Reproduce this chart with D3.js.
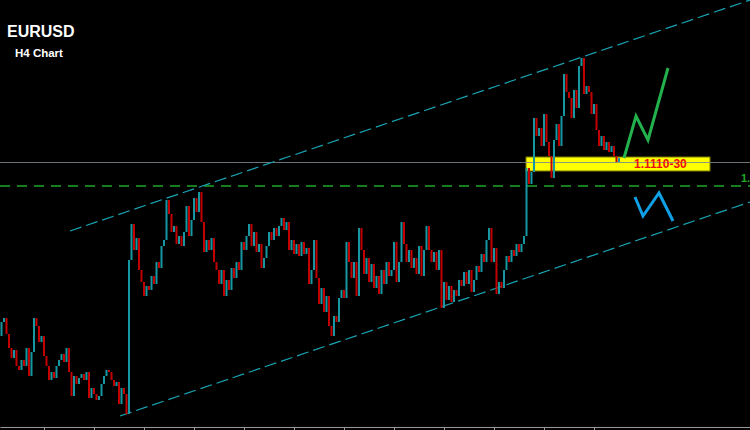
<!DOCTYPE html>
<html>
<head>
<meta charset="utf-8">
<script src="https://cdn.jsdelivr.net/npm/d3@7"></script>
<style>
  html, body { margin: 0; padding: 0; background: #000; }
  svg { display: block; }
</style>
</head>
<body>
<svg id="chart" width="750" height="430"></svg>
<script>
// ---- Data (EURUSD H4) ----
const symbol = "EURUSD";
const timeframe = "H4 Chart";
const firstOpen = 1.0770;
const closes = [
  1.0798, 1.0806, 1.0774, 1.0746, 1.0726, 1.0742, 1.0710, 1.0702, 1.0722, 1.0710,
  1.0746, 1.0690, 1.0738, 1.0806, 1.0790, 1.0758, 1.0770, 1.0730, 1.0710, 1.0682,
  1.0698, 1.0686, 1.0710, 1.0722, 1.0734, 1.0718, 1.0746, 1.0698, 1.0650, 1.0690,
  1.0674, 1.0686, 1.0694, 1.0682, 1.0698, 1.0646, 1.0666, 1.0654, 1.0642, 1.0650,
  1.0674, 1.0690, 1.0702, 1.0698, 1.0682, 1.0670, 1.0678, 1.0634, 1.0666, 1.0654,
  1.0614, 1.0922, 1.0994, 1.0942, 1.0966, 1.0902, 1.0878, 1.0850, 1.0870, 1.0862,
  1.0890, 1.0874, 1.0918, 1.0906, 1.0950, 1.0962, 1.1042, 1.1014, 1.0978, 1.0990,
  1.0954, 1.0970, 1.0950, 1.0978, 1.1030, 1.0970, 1.1002, 1.1046, 1.1018, 1.1058,
  1.0998, 1.0938, 1.0962, 1.0942, 1.0966, 1.0918, 1.0902, 1.0874, 1.0902, 1.0850,
  1.0882, 1.0862, 1.0906, 1.0886, 1.0918, 1.0902, 1.0958, 1.0942, 1.0970, 1.0994,
  1.0950, 1.0978, 1.0938, 1.0954,
  1.0906, 1.0926, 1.0950, 1.0978, 1.0962, 1.0986, 1.0970, 1.0990, 1.1006, 1.0982,
  1.0998, 1.0942, 1.0962, 1.0934, 1.0954, 1.0930, 1.0958, 1.0934, 1.0946, 1.0874,
  1.0902, 1.0962, 1.0886, 1.0834, 1.0866, 1.0818, 1.0850, 1.0790, 1.0770, 1.0810,
  1.0798, 1.0846, 1.0862, 1.0846, 1.0958, 1.0918, 1.0886, 1.0918, 1.0850, 1.0986,
  1.0942, 1.0894, 1.0926, 1.0878, 1.0914, 1.0866, 1.0890, 1.0854, 1.0902, 1.0874, 1.0918, 1.0890,
  1.0902, 1.0958, 1.0878, 1.0918, 1.0998, 1.0954, 1.0918, 1.0942, 1.0906, 1.0926,
  1.0894, 1.0950, 1.0890, 1.0942, 1.0990, 1.0942, 1.0918, 1.0938, 1.0902, 1.0942,
  1.0826, 1.0878, 1.0842, 1.0870, 1.0838, 1.0862, 1.0850, 1.0882, 1.0870, 1.0898,
  1.0874, 1.0902, 1.0858, 1.0882, 1.0910, 1.0898, 1.0934, 1.0918, 1.0962, 1.0986,
  1.0918, 1.0946, 1.0854, 1.0878, 1.0866, 1.0902, 1.0930, 1.0918, 1.0942, 1.0930,
  1.0954, 1.0938, 1.0954, 1.0970,
  1.1106, 1.1074, 1.1098, 1.1206, 1.1170, 1.1186, 1.1150, 1.1214, 1.1158, 1.1130,
  1.1086, 1.1162, 1.1194, 1.1150, 1.1210, 1.1294, 1.1258, 1.1246, 1.1206, 1.1262,
  1.1226, 1.1310, 1.1326, 1.1254, 1.1270, 1.1258, 1.1214, 1.1234, 1.1182, 1.1150,
  1.1170, 1.1142, 1.1158, 1.1138, 1.1150, 1.1130, 1.1118, 1.1126
];
// Annotations, in [bar index, price]
const channelUpper = [[27.4, 1.0980], [299.4, 1.1442]];
const channelLower = [[47.4, 1.0610], [299.4, 1.1038]];
const greenPath = [[249.0, 1.1126], [253.8, 1.1210], [258.6, 1.1162], [266.6, 1.1306]];
const bluePath  = [[253.4, 1.1048], [256.6, 1.1010], [263.0, 1.1056], [268.6, 1.1000]];
const zonePrices = [1.1100, 1.1128];
const zoneBars = [209.8, 283.4];
const zoneLabel = "1.1110-30";
const priceLine = 1.1118;
const levelLine = 1.1070;
const levelLabel = "1.";   // the visible part of the level label at the right edge
const timeTicks = [17, 37, 57, 77, 97, 117, 137, 157, 177, 197, 217, 237];

// ---- Scales ----
const W = 750, H = 430;
const x = d3.scaleLinear().domain([-0.6, 299.4]).range([0, W]);
const y = d3.scaleLinear().domain([1.0582, 1.1442]).range([H, 0]);

const svg = d3.select("#chart");
svg.append("rect").attr("width", W).attr("height", H).attr("fill", "#000");

const candles = closes.map((c, i) => ({ i, o: i === 0 ? firstOpen : closes[i - 1], c }));

// support zone
svg.append("rect")
  .attr("x", x(zoneBars[0])).attr("width", x(zoneBars[1]) - x(zoneBars[0]))
  .attr("y", y(zonePrices[1])).attr("height", y(zonePrices[0]) - y(zonePrices[1]))
  .attr("fill", "#ffff00").attr("stroke", "#7a7a00").attr("stroke-width", 1);

// horizontal price line
svg.append("line")
  .attr("x1", 0).attr("x2", W)
  .attr("y1", Math.round(y(priceLine)) + 0.5).attr("y2", Math.round(y(priceLine)) + 0.5)
  .attr("stroke", "#7d8890").attr("stroke-width", 1).attr("opacity", 0.85);

// green dashed level
svg.append("line")
  .attr("x1", 0).attr("x2", W)
  .attr("y1", y(levelLine)).attr("y2", y(levelLine))
  .attr("stroke", "#1fa82a").attr("stroke-width", 1.5).attr("stroke-dasharray", "10,7");
svg.append("text")
  .attr("x", 741).attr("y", y(levelLine) - 4)
  .attr("fill", "#1fa82a").attr("font-family", "Liberation Sans, Arial, sans-serif")
  .attr("font-weight", "bold").attr("font-size", 11).text(levelLabel);

// channel lines
const line = d3.line().x(d => x(d[0])).y(d => y(d[1]));
[channelUpper, channelLower].forEach(pts => {
  svg.append("path").attr("d", line(pts))
    .attr("fill", "none").attr("stroke", "#19a3b3").attr("stroke-width", 1.2)
    .attr("stroke-dasharray", "12,5");
});

// candles
svg.append("g").selectAll("rect").data(candles).join("rect")
  .attr("x", d => x(d.i) - 1)
  .attr("width", 2)
  .attr("y", d => y(Math.max(d.o, d.c)))
  .attr("height", d => Math.max(1, Math.abs(y(d.o) - y(d.c))))
  .attr("fill", d => d.c >= d.o ? "#1697a2" : "#c20000");

// zone label
svg.append("text")
  .attr("x", x(253.0)).attr("y", y(zonePrices[0]) - 3)
  .attr("fill", "#ee1111").attr("font-family", "Liberation Sans, Arial, sans-serif")
  .attr("font-weight", "bold").attr("font-size", 12).text(zoneLabel);

// forecast paths
svg.append("path").attr("d", line(greenPath))
  .attr("fill", "none").attr("stroke", "#22b14c").attr("stroke-width", 3)
  .attr("stroke-linejoin", "miter");
svg.append("path").attr("d", line(bluePath))
  .attr("fill", "none").attr("stroke", "#10a0e6").attr("stroke-width", 3)
  .attr("stroke-linejoin", "miter");

// bottom time axis (labels fall outside the frame)
const axis = d3.axisBottom(x).tickValues(timeTicks).tickSize(3).tickSizeOuter(0).tickFormat("");
const ag = svg.append("g").attr("transform", "translate(0,427)").call(axis);
ag.select(".domain").attr("stroke", "#9a9a9a");
ag.selectAll(".tick line").attr("stroke", "#9a9a9a");

// titles
svg.append("text").attr("x", 7).attr("y", 37)
  .attr("fill", "#fff").attr("font-family", "Liberation Sans, Arial, sans-serif")
  .attr("font-weight", "bold").attr("font-size", 16).text(symbol);
svg.append("text").attr("x", 15).attr("y", 57)
  .attr("fill", "#fff").attr("font-family", "Liberation Sans, Arial, sans-serif")
  .attr("font-weight", "bold").attr("font-size", 11.5).text(timeframe);
</script>
</body>
</html>
